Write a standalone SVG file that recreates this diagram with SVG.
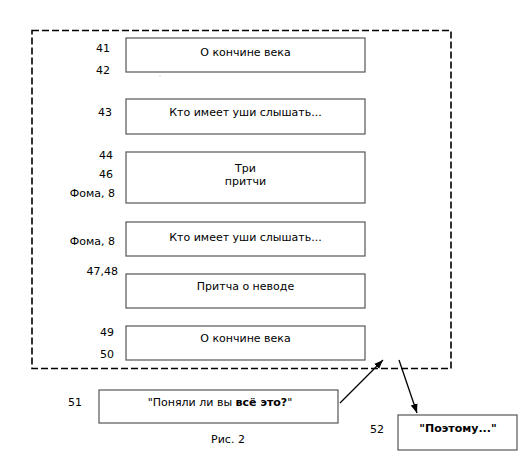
<svg xmlns="http://www.w3.org/2000/svg" width="522" height="453" viewBox="0 0 522 453">
<defs>
<marker id="ah" markerWidth="10" markerHeight="10" refX="9" refY="5" orient="auto" markerUnits="userSpaceOnUse">
<path d="M0,1.5 L9,5 L0,8.5 Z" fill="#000"/>
</marker>
<style>
.box{fill:#fff;stroke:#555;stroke-width:1.2}
.t{font-family:"DejaVu Sans",Verdana,sans-serif;font-size:11px;fill:#000;text-anchor:middle}
.l{font-family:"DejaVu Sans",Verdana,sans-serif;font-size:11px;fill:#000;text-anchor:end}
.c{stroke:#000;stroke-width:1.3;fill:none;marker-end:url(#ah)}
</style>
</defs>
<rect width="522" height="453" fill="#fff"/>
<rect x="32" y="30.5" width="419" height="338" fill="none" stroke="#000" stroke-width="1.6" stroke-dasharray="7,3"/>
<g id="n1"><rect class="box" x="126" y="38" width="239" height="34"/><text class="t" x="245.5" y="56">О кончине века</text>
<text class="l" x="110" y="52">41</text><text class="l" x="110" y="74">42</text></g>
<circle cx="160" cy="76" r="0.5" fill="#888"/>
<g id="n2"><rect class="box" x="126" y="99" width="239" height="35"/><text class="t" x="245.5" y="116">Кто имеет уши слышать...</text>
<text class="l" x="112" y="116">43</text></g>
<g id="n3"><rect class="box" x="126" y="152" width="239" height="51"/><text class="t" x="245.5" y="172">Три</text><text class="t" x="245.5" y="185">притчи</text>
<text class="l" x="113" y="159">44</text><text class="l" x="113" y="178">46</text><text class="l" x="115" y="197">Фома, 8</text></g>
<g id="n4"><rect class="box" x="126" y="222" width="239" height="34"/><text class="t" x="245.5" y="241">Кто имеет уши слышать...</text>
<text class="l" x="115" y="245">Фома, 8</text></g>
<g id="n5"><rect class="box" x="126" y="274" width="239" height="34"/><text class="t" x="245.5" y="290">Притча о неводе</text>
<text class="l" x="118" y="275">47,48</text></g>
<g id="n6"><rect class="box" x="126" y="326" width="239" height="34"/><text class="t" x="245.5" y="342">О кончине века</text>
<text class="l" x="114" y="336">49</text><text class="l" x="114" y="358">50</text></g>
<g id="n7"><rect class="box" x="99" y="390" width="239" height="33"/><text class="t" x="220" y="406">"Поняли ли вы <tspan font-weight="bold">всё это?</tspan>"</text>
<text class="l" x="82" y="406">51</text></g>
<g id="n8"><rect class="box" x="398" y="415" width="119" height="35"/><text class="t" x="458" y="432" font-weight="bold">"Поэтому..."</text>
<text class="l" x="384" y="433">52</text></g>
<text class="t" x="228" y="443">Рис. 2</text>
<g id="connectors">
<line class="c" x1="340" y1="403" x2="383" y2="360"/>
<line class="c" x1="399" y1="360" x2="417" y2="413"/>
</g>
</svg>
